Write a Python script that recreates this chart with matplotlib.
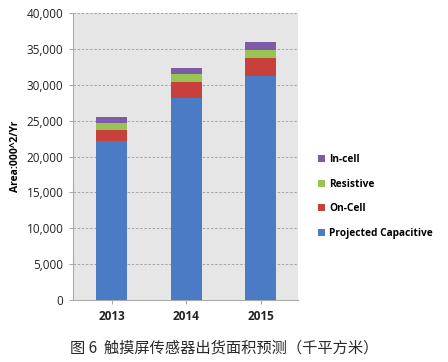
import matplotlib.pyplot as plt
import numpy as np

years = ['2013', '2014', '2015']
projected = [22200, 28200, 31200]
on_cell = [1500, 2200, 2600]
resistive = [1000, 1100, 1100]
in_cell = [800, 800, 1000]

series = [
    ('Projected Capacitive', projected, '#4a7bc4'),
    ('On-Cell', on_cell, '#c8403c'),
    ('Resistive', resistive, '#98c454'),
    ('In-cell', in_cell, '#7d5ba6'),
]

plt.rcParams['font.family'] = ['Open Sans', 'DejaVu Sans']

fig = plt.figure(figsize=(4.48, 3.62), dpi=100)
ax = fig.add_axes([0.163, 0.171, 0.502, 0.793])
ax.set_facecolor('#e6e6e6')

x = np.arange(len(years))
bottom = np.zeros(len(years))
handles = []
for name, vals, col in series:
    b = ax.bar(x, vals, width=0.42, bottom=bottom, color=col, label=name, zorder=3)
    handles.append(b)
    bottom += np.array(vals)

ax.set_ylim(0, 40000)
ax.set_xlim(-0.52, 2.5)
ax.set_yticks(range(0, 40001, 5000))
ax.set_yticklabels([f'{v:,}' for v in range(0, 40001, 5000)], fontsize=8.5, color='#222222')
ax.set_xticks(x)
ax.set_xticklabels(years, fontsize=8.5, fontweight='bold', color='#222222')
ax.grid(axis='y', color='#9a9a9a', linestyle=(0, (3, 2)), linewidth=0.6, zorder=1)
for s in ['top', 'right']:
    ax.spines[s].set_visible(False)
for s in ['left', 'bottom']:
    ax.spines[s].set_color('#aaaaaa')
    ax.spines[s].set_linewidth(0.8)
ax.tick_params(axis='both', length=3, color='#aaaaaa', pad=4)
ax.set_ylabel('Area:000^2/Yr', fontsize=7.5, fontweight='bold', labelpad=4)

fig.legend(handles[::-1], [s[0] for s in series][::-1], loc='upper left',
           bbox_to_anchor=(0.69, 0.6), frameon=False,
           handlelength=0.7, handleheight=0.7, labelspacing=1.35, handletextpad=0.4,
           prop={'weight': 'bold', 'size': 7.3})

fig.text(0.5, 0.04, '图 6  触摸屏传感器出货面积预测（千平方米）', ha='center', va='center',
         fontsize=11, fontweight='medium', color='#2a2a2a',
         family=['Noto Sans CJK SC', 'DejaVu Sans'])

plt.savefig('out.png', dpi=100)
